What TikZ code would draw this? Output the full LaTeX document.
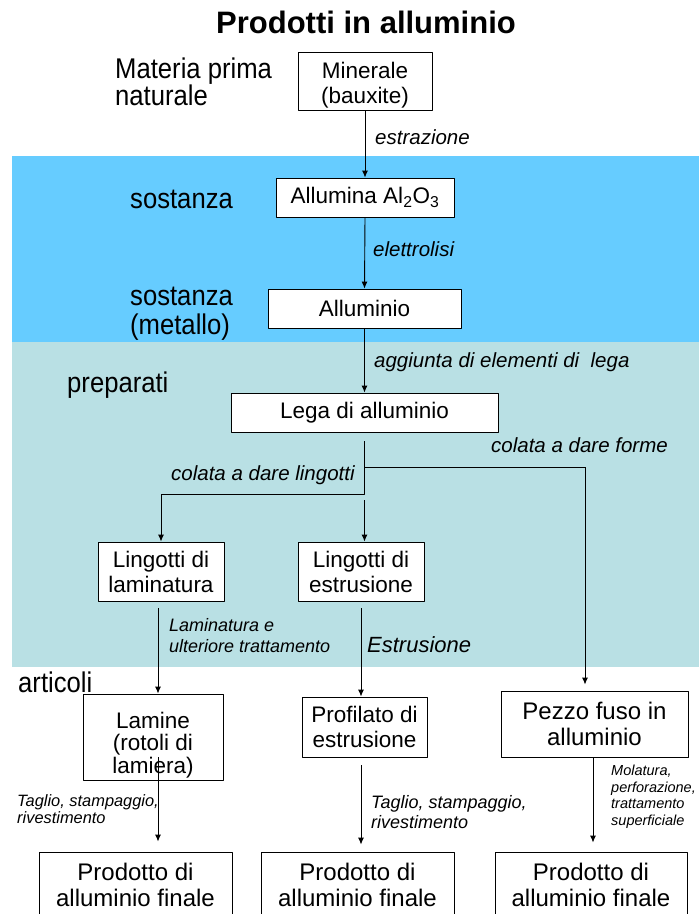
\documentclass[tikz,border=0pt]{standalone}
\usepackage{fontspec}
\setmainfont{Liberation Sans}
\newfontfamily\strettofont{Liberation Sans}[FakeStretch=0.9]
\usetikzlibrary{arrows.meta}
\definecolor{bandblue}{RGB}{102,204,255}
\definecolor{bandteal}{RGB}{185,224,228}
\begin{document}
\begin{tikzpicture}[x=1pt, y=-1pt, line join=round, >={Latex[length=7pt,width=6pt]},
	box/.style={draw, fill=white, line width=0.9pt, inner sep=0pt, align=center, font=\fontsize{22.5}{25}\selectfont},
	bigbox/.style={box, font=\fontsize{24}{26.5}\selectfont},
	lbl/.style={anchor=west, inner sep=0pt, align=left, font=\strettofont\fontsize{28.5}{26}\selectfont},
	act/.style={anchor=west, inner sep=0pt, align=left, font=\fontsize{20.5}{22}\selectfont\itshape},
	flow/.style={->, line width=0.9pt}]
	\useasboundingbox (0,0) rectangle (699,914);
	\clip (0,0) rectangle (699,914);
	% fasce
	\fill[bandblue] (12,156) rectangle (699,341.5);
	\fill[bandteal] (12,341.5) rectangle (699,667);
	\node[font=\fontsize{31}{33}\selectfont\bfseries] (titolo) at (366,22) {Prodotti in alluminio};
	% etichette a sinistra
	\node[lbl] (materia) at (115,82) {Materia prima\\naturale};
	\node[lbl] (sost1) at (130,199) {sostanza};
	\node[lbl, font=\strettofont\fontsize{28.5}{29.5}\selectfont] (sost2) at (130,313.7) {sostanza\\(metallo)};
	\node[lbl] (prep) at (67,385) {preparati};
	\node[lbl] (artic) at (18,682.5) {articoli};
	% riquadri
	\node[box, minimum width=134, minimum height=58] (minerale) at (365,81) {\rule{0pt}{24pt}Minerale\\(bauxite)};
	\node[box, minimum width=178, minimum height=39] (allumina) at (365,197.5) {Allumina Al\textsubscript{2}O\textsubscript{3}};
	\node[box, minimum width=193, minimum height=39] (alluminio) at (364.5,308.5) {Alluminio};
	\node[box, minimum width=267, minimum height=39] (lega) at (364.5,412.5) {Lega di alluminio};
	\node[box, minimum width=126, minimum height=59] (lingL) at (161,571.5) {Lingotti di\\laminatura};
	\node[box, minimum width=126, minimum height=59] (lingE) at (361,571.5) {Lingotti di\\estrusione};
	\node[box, minimum width=140, minimum height=86, font=\fontsize{22.5}{22.5}\selectfont] (lamine) at (153,737) {\rule{0pt}{32pt}Lamine\\(rotoli di\\lamiera)};
	\node[box, minimum width=125, minimum height=60] (profilato) at (364.5,727) {Profilato di\\estrusione};
	\node[bigbox, minimum width=187, minimum height=66] (pezzo) at (594.5,724) {Pezzo fuso in\\alluminio};
	\node[bigbox, minimum width=193, minimum height=65.4] (prodL) at (135.5,884.7) {Prodotto di\\alluminio finale};
	\node[bigbox, minimum width=193, minimum height=65.4] (prodM) at (357.5,884.7) {Prodotto di\\alluminio finale};
	\node[bigbox, minimum width=192, minimum height=65.4] (prodR) at (591,884.7) {Prodotto di\\alluminio finale};
	% lavorazioni
	\node[act] (estr) at (375,137) {estrazione};
	\node[act] (elett) at (373,249.5) {elettrolisi};
	\node[act] (aggiunta) at (374,362) {aggiunta di elementi di\ \ lega};
	\node[act] (forme) at (491,445.5) {colata a dare forme};
	\node[act] (lingotti) at (171,474.7) {colata a dare lingotti};
	\node[act, font=\fontsize{18}{21}\selectfont\itshape] (lamin) at (169,636) {Laminatura e\\ulteriore trattamento};
	\node[act, font=\fontsize{22}{24}\selectfont\itshape] (estrus) at (367,645) {Estrusione};
	\node[act, font=\fontsize{16.4}{17}\selectfont\itshape] (taglioL) at (17,809) {Taglio, stampaggio,\\rivestimento};
	\node[act, font=\fontsize{18}{20}\selectfont\itshape] (taglioM) at (371,812.5) {Taglio, stampaggio,\\rivestimento};
	\node[act, font=\fontsize{14.5}{16.5}\selectfont\itshape] (molat) at (611,796.5) {Molatura,\\perforazione,\\trattamento\\superficiale};
	% collegamenti
	\coordinate (jR) at (364.5,467);
	\coordinate (jL) at (364.5,494);
	\coordinate (jM) at (364.5,500);
	\coordinate (rT) at (585,467);
	\draw[flow] (minerale.south) -- (allumina.north);
	\draw[flow] (allumina.south) -- (alluminio.north);
	\draw[flow] (alluminio.south) -- (lega.north);
	\draw[flow, shorten <=9] (lega.south) -- (jL) -| (lingL.north);
	\draw[line width=0.9pt] (jR) -- (rT);
	\draw[flow, shorten >=6] (rT) -- (rT |- pezzo.north);
	\draw[flow] (jM) -- (jM |- lingE.north);
	\draw[flow, shorten <=7] ([xshift=-3]lingL.south) -- ([xshift=-3]lingL.south |- lamine.north);
	\draw[flow, shorten <=-23, shorten >=10] ([xshift=5]lamine.south) -- ([xshift=5]lamine.south |- prodL.north);
	\draw[flow, shorten <=7] (lingE.south) -- (lingE.south |- profilato.north);
	\draw[flow, shorten <=8, shorten >=7] ([xshift=-3.5]profilato.south) -- ([xshift=-3.5]profilato.south |- prodM.north);
	\draw[flow, shorten >=9] ([xshift=-1.5]pezzo.south) -- ([xshift=-1.5]pezzo.south |- prodR.north);
\end{tikzpicture}
\end{document}
